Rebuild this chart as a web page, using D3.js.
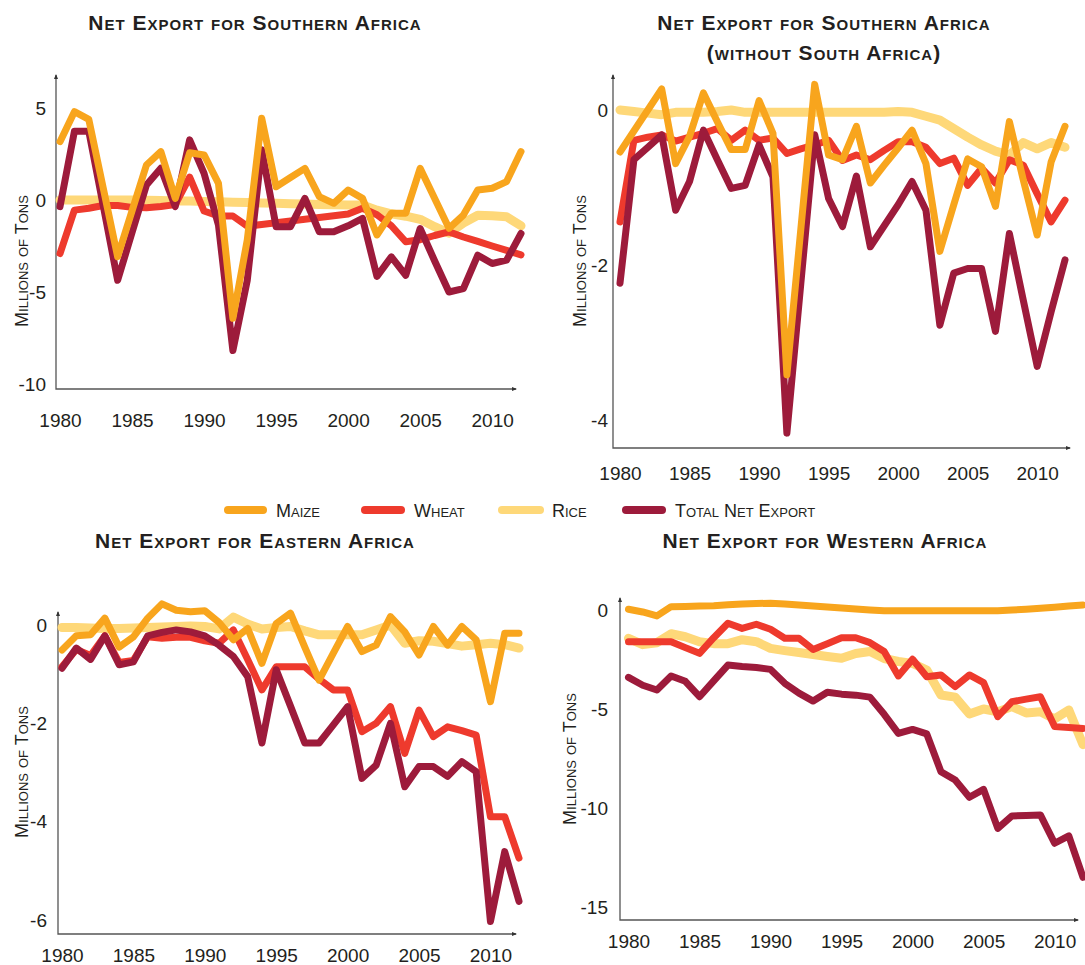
<!DOCTYPE html>
<html>
<head>
<meta charset="utf-8">
<title>Net Export</title>
<script src="https://cdn.jsdelivr.net/npm/d3@7"></script>
<style>
  body { margin: 0; background: #ffffff; }
  svg { display: block; font-family: "Liberation Sans", Arial, Helvetica, sans-serif; }
  .tick text { font-size: 19px; fill: #231f20; }
  .panel-title { font-size: 21px; font-weight: bold; font-variant: small-caps; fill: #231f20; letter-spacing: 1px; }
  .y-title { font-size: 18px; font-variant: small-caps; fill: #231f20; }
  .legend-label { font-size: 18px; font-variant: small-caps; fill: #231f20; }
  .axis-line { stroke: #555555; stroke-width: 1.3; fill: none; }
</style>
</head>
<body>
<svg id="chart" width="1085" height="965"></svg>
<script>
"use strict";

const years = [1980, 1981, 1982, 1983, 1984, 1985, 1986, 1987, 1988, 1989,
               1990, 1991, 1992, 1993, 1994, 1995, 1996, 1997, 1998, 1999,
               2000, 2001, 2002, 2003, 2004, 2005, 2006, 2007, 2008, 2009,
               2010, 2011, 2012];
const xTickYears = [1980, 1985, 1990, 1995, 2000, 2005, 2010];

// Southern Africa (millions of tons)
const southernMaize = [3.17, 4.8, 4.38, 0.65, -3.08, -0.59, 1.9, 2.63, 0.09, 2.57,
                       2.45, 0.9, -6.43, -2.17, 4.44, 0.72, 1.22, 1.72, 0.18, -0.18,
                       0.54, 0.09, -1.9, -0.72, -0.72, 1.72, 0.09, -1.54, -0.82, 0.54, 0.64, 1.0, 2.63];
const southernWheat = [-2.91, -0.55, -0.45, -0.3, -0.3, -0.4, -0.42, -0.35, -0.25, 1.24,
                       -0.6, -0.87, -0.87, -1.42, -1.33, -1.24, -1.14, -1.05, -0.95, -0.86,
                       -0.76, -0.45, -0.8, -1.4, -2.27, -2.16, -1.93, -1.73, -2.01, -2.25, -2.5, -2.74, -2.98];
const southernRice = [0, 0, 0, 0, 0, 0, -0.02, -0.03, -0.05, -0.06,
                      -0.08, -0.1, -0.12, -0.14, -0.16, -0.18, -0.2, -0.22, -0.24, -0.26,
                      -0.27, -0.27, -0.55, -0.75, -0.88, -1.05, -1.45, -1.8, -1.25, -0.83, -0.86, -0.91, -1.4];
const southernTotal = [-0.36, 3.73, 3.73, -0.3, -4.36, -1.77, 0.82, 1.73, -0.36, 3.27,
                       1.45, -1.36, -8.18, -4.36, 2.73, -1.45, -1.45, 0.09, -1.73, -1.73,
                       -1.4, -1.0, -4.15, -3.09, -4.09, -1.55, -3.3, -5.0, -4.82, -3.0, -3.45, -3.27, -1.82];

// Southern Africa without South Africa
const noSaMaize = [-0.54, -0.27, 0.0, 0.27, -0.69, -0.34, 0.22, -0.15, -0.51, -0.51,
                   0.12, -0.3, -3.41, -1.54, 0.33, -0.58, -0.64, -0.21, -0.94, -0.71,
                   -0.49, -0.26, -0.69, -1.82, -1.22, -0.63, -0.73, -1.24, -0.15, -0.9, -1.61, -0.67, -0.21];
const noSaWheat = [-1.44, -0.39, -0.35, -0.32, -0.4, -0.35, -0.3, -0.24, -0.39, -0.26,
                   -0.39, -0.36, -0.56, -0.5, -0.45, -0.39, -0.65, -0.58, -0.64, -0.52,
                   -0.41, -0.41, -0.48, -0.69, -0.62, -0.97, -0.75, -0.94, -0.64, -0.71, -1.08, -1.44, -1.16];
const noSaRice = [0, -0.02, -0.04, -0.06, -0.03, -0.03, -0.03, -0.02, 0, -0.03,
                  -0.03, -0.03, -0.03, -0.03, -0.03, -0.03, -0.03, -0.03, -0.03, -0.03,
                  -0.02, -0.03, -0.08, -0.13, -0.24, -0.35, -0.45, -0.53, -0.58, -0.42, -0.5, -0.42, -0.48];
const noSaTotal = [-2.23, -0.64, -0.48, -0.32, -1.29, -0.92, -0.26, -0.64, -1.01, -0.97,
                   -0.45, -0.86, -4.16, -2.24, -0.32, -1.14, -1.5, -0.85, -1.76, -1.49,
                   -1.22, -0.92, -1.29, -2.77, -2.1, -2.04, -2.04, -2.85, -1.59, -2.45, -3.3, -2.6, -1.93];

// Eastern Africa
const easternMaize = [-0.51, -0.22, -0.2, 0.14, -0.45, -0.24, 0.14, 0.43, 0.3, 0.27,
                      0.29, 0.05, -0.3, -0.07, -0.78, 0.03, 0.24, -0.45, -1.12, -0.57,
                      -0.03, -0.54, -0.41, 0.17, -0.14, -0.61, -0.03, -0.41, -0.03, -0.3, -1.56, -0.17, -0.17];
const easternWheat = [-0.85, -0.5, -0.62, -0.22, -0.76, -0.72, -0.24, -0.27, -0.25, -0.25,
                      -0.32, -0.37, -0.1, -0.7, -1.32, -0.85, -0.85, -0.85, -1.1, -1.32,
                      -1.32, -2.17, -2.0, -1.66, -2.61, -1.73, -2.27, -2.07, -2.15, -2.24, -3.9, -3.9, -4.74];
const easternRice = [-0.05, -0.05, -0.06, -0.07, -0.07, -0.06, -0.05, -0.04, -0.03, -0.02,
                     -0.03, -0.08, 0.16, 0.02, -0.08, -0.05, -0.03, -0.12, -0.2, -0.2,
                     -0.2, -0.2, -0.1, 0.0, -0.37, -0.32, -0.33, -0.38, -0.43, -0.4, -0.37, -0.4, -0.47];
const easternTotal = [-0.88, -0.47, -0.7, -0.22, -0.81, -0.75, -0.22, -0.15, -0.1, -0.14,
                      -0.22, -0.41, -0.64, -1.05, -2.4, -0.91, -1.65, -2.4, -2.4, -2.03,
                      -1.66, -3.12, -2.85, -2.0, -3.29, -2.88, -2.88, -3.08, -2.78, -2.98, -6.03, -4.61, -5.62];

// Western Africa
const westernMaize = [0.04, -0.1, -0.3, 0.17, 0.18, 0.2, 0.22, 0.26, 0.3, 0.33,
                      0.34, 0.3, 0.25, 0.2, 0.15, 0.1, 0.05, 0.0, -0.04, -0.04,
                      -0.04, -0.04, -0.04, -0.04, -0.04, -0.04, -0.04, 0.0, 0.04, 0.09, 0.14, 0.2, 0.25];
const westernWheat = [-1.6, -1.6, -1.6, -1.6, -1.9, -2.19, -1.4, -0.67, -0.93, -0.72,
                      -0.97, -1.43, -1.43, -1.99, -1.7, -1.4, -1.4, -1.65, -2.1, -3.33,
                      -2.49, -3.37, -3.28, -3.87, -3.28, -3.67, -5.39, -4.63, -4.5, -4.38, -5.89, -5.93, -5.98];
const westernRice = [-1.43, -1.75, -1.65, -1.2, -1.35, -1.6, -1.7, -1.7, -1.5, -1.6,
                     -1.94, -2.05, -2.15, -2.25, -2.35, -2.44, -2.2, -2.1, -2.45, -2.6,
                     -2.7, -3.03, -4.29, -4.4, -5.25, -5.0, -5.14, -4.88, -5.2, -5.14, -5.5, -5.05, -6.8];
const westernTotal = [-3.4, -3.8, -4.04, -3.33, -3.6, -4.38, -3.58, -2.78, -2.85, -2.9,
                      -3.0, -3.7, -4.2, -4.6, -4.15, -4.25, -4.3, -4.4, -5.27, -6.23,
                      -6.03, -6.26, -8.17, -8.59, -9.46, -9.06, -11.03, -10.4, -10.38, -10.35, -11.78, -11.41, -13.5];

const seriesNames = ["Maize", "Wheat", "Rice", "Total Net Export"];
const yTitleText = "Millions of Tons";

// styling per series (drawing order is rice, wheat, total, maize)
const seriesStyle = {
    "Maize": {color: "#f8a51d", width: 7},
    "Wheat": {color: "#ee3a2d", width: 7},
    "Rice": {color: "#fed879", width: 9},
    "Total Net Export": {color: "#9d1b3b", width: 7}
};
const drawOrder = ["Rice", "Wheat", "Total Net Export", "Maize"];

// panel layout in page pixels
const panels = [
    {title: ["Net Export for Southern Africa"], titleX: 255, titleY: [30],
     values: [southernMaize, southernWheat, southernRice, southernTotal],
     xRange: [60, 521], yDomain: [-10, 5], yRange: [384, 108], yTicks: [5, 0, -5, -10],
     left: 56, top: 75, bottom: 389, right: 516, labelPad: 25, yPad: 10, yTitle: [22, 261]},
    {title: ["Net Export for Southern Africa", "(without South Africa)"], titleX: 824, titleY: [30, 60],
     values: [noSaMaize, noSaWheat, noSaRice, noSaTotal],
     xRange: [620, 1065], yDomain: [-4, 0], yRange: [420.7, 110], yTicks: [0, -2, -4],
     left: 613, top: 75, bottom: 448, right: 1070, labelPad: 19, yPad: 5, yTitle: [580, 261]},
    {title: ["Net Export for Eastern Africa"], titleX: 255, titleY: [548],
     values: [easternMaize, easternWheat, easternRice, easternTotal],
     xRange: [62, 519], yDomain: [-6, 0], yRange: [920, 625], yTicks: [0, -2, -4, -6],
     left: 58, top: 612, bottom: 934, right: 516, labelPad: 15, yPad: 11, yTitle: [22, 772]},
    {title: ["Net Export for Western Africa"], titleX: 825, titleY: [548],
     values: [westernMaize, westernWheat, westernRice, westernTotal],
     xRange: [628.5, 1083], yDomain: [-15, 0], yRange: [907, 610], yTicks: [0, -5, -10, -15],
     left: 620, top: 598, bottom: 920, right: 1078, labelPad: 15, yPad: 12, yTitle: [570, 759]}
];

const legendY = 510;
const legendItems = [
    {name: "Maize", x1: 224, x2: 267, textX: 276},
    {name: "Wheat", x1: 361, x2: 405, textX: 414},
    {name: "Rice", x1: 498, x2: 544, textX: 552},
    {name: "Total Net Export", x1: 622, x2: 666, textX: 675}
];

function drawPanel(svg, p) {
    const g = svg.append("g");
    const xScale = d3.scaleLinear().domain([years[0], years[years.length - 1]]).range(p.xRange);
    const yScale = d3.scaleLinear().domain(p.yDomain).range(p.yRange);

    // title
    p.title.forEach((t, i) => {
        g.append("text").attr("class", "panel-title")
            .attr("x", p.titleX).attr("y", p.titleY[i])
            .attr("text-anchor", "middle").text(t);
    });

    // axes (labels only, lines are drawn below)
    const xAxis = d3.axisBottom(xScale).tickValues(xTickYears)
        .tickFormat(d3.format("d")).tickSize(0).tickPadding(p.labelPad);
    g.append("g").attr("transform", "translate(0," + p.bottom + ")").call(xAxis)
        .call(a => a.select(".domain").remove());
    const yAxis = d3.axisLeft(yScale).tickValues(p.yTicks)
        .tickFormat(d => String(d)).tickSize(0).tickPadding(p.yPad);
    g.append("g").attr("transform", "translate(" + p.left + ",0)").call(yAxis)
        .call(a => a.select(".domain").remove());
    g.selectAll(".tick text").attr("fill", "#231f20");

    g.append("path").attr("class", "axis-line")
        .attr("d", "M" + p.left + "," + p.top + "V" + p.bottom + "H" + p.right);
    // little arrow tips
    g.append("path").attr("fill", "#333")
        .attr("d", "M" + (p.left - 2) + "," + (p.top + 4) + "L" + p.left + "," + (p.top - 1) + "L" + (p.left + 2) + "," + (p.top + 4) + "Z");
    g.append("path").attr("fill", "#333")
        .attr("d", "M" + (p.right - 4) + "," + (p.bottom - 2) + "L" + (p.right + 1) + "," + p.bottom + "L" + (p.right - 4) + "," + (p.bottom + 2) + "Z");

    g.append("text").attr("class", "y-title")
        .attr("transform", "translate(" + p.yTitle[0] + "," + p.yTitle[1] + ") rotate(-90)")
        .attr("text-anchor", "middle").attr("dy", "0.35em").text(yTitleText);

    const line = d3.line()
        .x((d, i) => xScale(years[i]))
        .y(d => yScale(d));

    drawOrder.forEach(name => {
        const idx = seriesNames.indexOf(name);
        const style = seriesStyle[name];
        g.append("path")
            .datum(p.values[idx])
            .attr("d", line)
            .attr("fill", "none")
            .attr("stroke", style.color)
            .attr("stroke-width", style.width)
            .attr("stroke-linejoin", "round")
            .attr("stroke-linecap", "round");
    });
}

function drawLegend(svg) {
    const g = svg.append("g");
    legendItems.forEach(item => {
        g.append("line")
            .attr("x1", item.x1 + 4).attr("x2", item.x2 - 4)
            .attr("y1", legendY).attr("y2", legendY)
            .attr("stroke", seriesStyle[item.name].color)
            .attr("stroke-width", 8)
            .attr("stroke-linecap", "round");
        g.append("text").attr("class", "legend-label")
            .attr("x", item.textX).attr("y", legendY + 6.5)
            .text(item.name);
    });
}

function init() {
    const svg = d3.select("#chart");
    panels.forEach(p => drawPanel(svg, p));
    drawLegend(svg);
}

window.addEventListener("load", init);
</script>
</body>
</html>
